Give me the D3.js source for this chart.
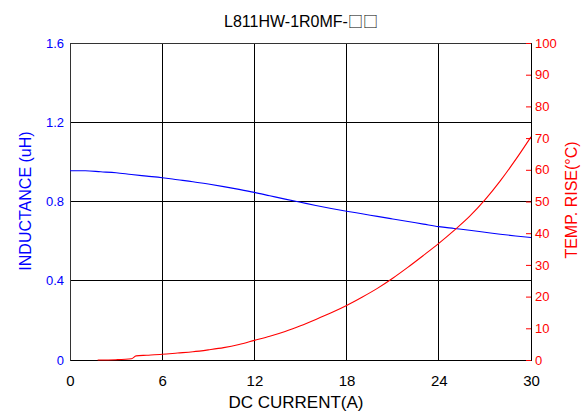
<!DOCTYPE html>
<html>
<head>
<meta charset="utf-8">
<script src="https://cdn.jsdelivr.net/npm/d3@7"></script>
<style>
  body { margin: 0; background: #fff; }
  svg { font-family: "Liberation Sans", Arial, sans-serif; }
</style>
</head>
<body>
<svg id="chart"></svg>
<script>
// Chart data
const current = [0, 1, 2, 3, 4, 5, 6, 7, 8, 9, 10, 11, 12, 13, 14, 15, 16, 17, 18, 19, 20, 21, 22, 23, 24, 25, 26, 27, 28, 29, 30];
const inductance = [0.955, 0.955, 0.950, 0.945, 0.936, 0.928, 0.920, 0.910, 0.900, 0.888, 0.875, 0.861, 0.846, 0.829, 0.812, 0.796, 0.780, 0.765, 0.751, 0.738, 0.725, 0.712, 0.699, 0.686, 0.673, 0.664, 0.655, 0.645, 0.635, 0.626, 0.618];
const tempCurrent = [1.8, 3, 4, 4.3, 5, 6, 7, 8, 9, 10, 11, 12, 13, 14, 15, 16, 17, 18, 19, 20, 21, 22, 23, 24, 25, 26, 27, 28, 29, 30];
const tempRise = [0, 0.1, 0.4, 1.3, 1.5, 1.8, 2.2, 2.6, 3.2, 3.9, 4.9, 6.2, 7.5, 9.0, 10.8, 12.8, 14.9, 17.2, 19.8, 22.6, 25.8, 29.3, 33.0, 36.8, 40.9, 45.3, 50.5, 56.5, 63.2, 70.4];
const xTicks = [0, 6, 12, 18, 24, 30];
const yLeftTicks = [0, 0.4, 0.8, 1.2, 1.6];
const yRightTicks = [0, 10, 20, 30, 40, 50, 60, 70, 80, 90, 100];

const W = 586, H = 417;
const margin = { top: 43, right: 55, bottom: 57, left: 70 };

const svg = d3.select("#chart").attr("width", W).attr("height", H);

const x = d3.scaleLinear().domain([0, 30]).range([margin.left, W - margin.right]);
const yL = d3.scaleLinear().domain([0, 1.6]).range([H - margin.bottom, margin.top]);
const yR = d3.scaleLinear().domain([0, 100]).range([H - margin.bottom, margin.top]);

// Grid lines
const grid = svg.append("g").attr("stroke", "#000").attr("shape-rendering", "crispEdges");
grid.selectAll(".vx").data(xTicks.slice(1, -1)).enter().append("line")
  .attr("x1", d => x(d)).attr("x2", d => x(d))
  .attr("y1", yL(0)).attr("y2", yL(1.6));
grid.selectAll(".hy").data(yLeftTicks.slice(1, -1)).enter().append("line")
  .attr("x1", x(0)).attr("x2", x(30))
  .attr("y1", d => yL(d)).attr("y2", d => yL(d));

// Frame
svg.append("rect")
  .attr("x", x(0)).attr("y", yL(1.6))
  .attr("width", x(30) - x(0)).attr("height", yL(0) - yL(1.6))
  .attr("fill", "none").attr("stroke", "#333").attr("shape-rendering", "crispEdges");

// Bottom axis
const xAxis = svg.append("g")
  .attr("transform", `translate(0,${yL(0)})`)
  .call(d3.axisBottom(x).tickValues(xTicks).tickSize(0).tickPadding(15));
xAxis.select(".domain").attr("stroke", "#000");
xAxis.selectAll("text").attr("font-size", 15).attr("fill", "#000").attr("font-family", null);

// Left axis (inductance)
const yAxisL = svg.append("g")
  .attr("transform", `translate(${x(0)},0)`)
  .call(d3.axisLeft(yL).tickValues(yLeftTicks).tickSize(0).tickPadding(6).tickFormat(d => d));
yAxisL.select(".domain").attr("stroke", "#333");
yAxisL.selectAll("text").attr("font-size", 13).attr("fill", "#0000ff").attr("font-family", null);

// Right axis (temperature rise)
const yAxisR = svg.append("g")
  .attr("transform", `translate(${x(30)},0)`)
  .call(d3.axisRight(yR).tickValues(yRightTicks).tickSizeInner(-5).tickSizeOuter(0).tickPadding(4));
yAxisR.select(".domain").attr("stroke", "#000");
yAxisR.selectAll("line").attr("stroke", "#ff0000");
yAxisR.selectAll("text").attr("font-size", 13).attr("fill", "#ff0000").attr("font-family", null);

// Curves
const lineL = d3.line().x((d, i) => x(current[i])).y(d => yL(d)).curve(d3.curveMonotoneX);
svg.append("path").datum(inductance)
  .attr("d", lineL).attr("fill", "none").attr("stroke", "#0000ff").attr("stroke-width", 1.1);

const lineR = d3.line().x((d, i) => x(tempCurrent[i])).y(d => yR(d)).curve(d3.curveMonotoneX);
svg.append("path").datum(tempRise)
  .attr("d", lineR).attr("fill", "none").attr("stroke", "#ff0000").attr("stroke-width", 1.1);

// Title
const title = svg.append("text")
  .attr("x", 301).attr("y", 27)
  .attr("text-anchor", "middle")
  .attr("font-size", 16);
title.append("tspan").text("L811HW-1R0MF-");
title.append("tspan").attr("font-family", "'Noto Sans CJK SC', 'DejaVu Sans'").attr("font-size", 15).text("□□");

// Axis titles
svg.append("text")
  .attr("x", 296).attr("y", 408)
  .attr("text-anchor", "middle")
  .attr("font-size", 17)
  .text("DC CURRENT(A)");

svg.append("text")
  .attr("transform", "translate(31,201) rotate(-90)")
  .attr("text-anchor", "middle")
  .attr("font-size", 16)
  .attr("fill", "#0000ff")
  .text("INDUCTANCE (uH)");

svg.append("text")
  .attr("transform", "translate(577,200) rotate(-90)")
  .attr("text-anchor", "middle")
  .attr("font-size", 16)
  .attr("fill", "#ff0000")
  .text("TEMP. RISE(°C)");
</script>
</body>
</html>
